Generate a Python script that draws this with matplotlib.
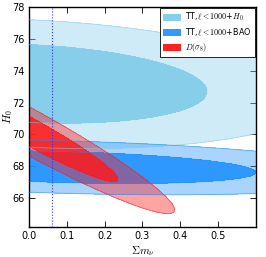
import numpy as np
import matplotlib
matplotlib.use("Agg")
import matplotlib.pyplot as plt
from matplotlib.patches import Patch

plt.rcParams["mathtext.fontset"] = "cm"
plt.rcParams["font.family"] = ["DejaVu Sans"]

# Gaussian approximations of the posteriors: (mnu centre, H0 centre, sigma mnu, sigma H0|mnu, slope dH0/dmnu)
H0_PRIOR = [0.0, 73.2, 0.31, 1.61, -1.06]
BAO = [0.10, 67.95, 0.33, 0.64, -0.65]
SIGMA8 = [0.0, 70.2, 0.155, 0.62, -12.8]
LEVELS = {"H0": [2.30, 6.17], "BAO": [2.30, 6.6], "s8": [2.30, 6.17]}
LABELS = [r"TT,$\ell < 1000$+$H_0$", r"TT,$\ell < 1000$+BAO", r"$D(\sigma_8)$"]
MNU_LINE = 0.06

def chi2(p, X, Y):
    mx, mh, sx, sh, b = p
    return ((X - mx) / sx) ** 2 + ((Y - mh - b * (X - mx)) / sh) ** 2

x = np.linspace(-1.0, 1.0, 700)
y = np.linspace(60, 82, 700)
X, Y = np.meshgrid(x, y)

fig = plt.figure(figsize=(2.66, 2.57), dpi=100, facecolor="white")
ax = fig.add_axes([0.109, 0.117, 0.853, 0.856])

sets = [
    (H0_PRIOR, LEVELS["H0"], "#87CEEB", [0.4, 1.0]),
    (BAO, LEVELS["BAO"], "#1E90FF", [0.38, 0.88]),
    (SIGMA8, LEVELS["s8"], "#FF1A1A", [0.4, 0.82]),
]
for p, lev, col, alph in sets:
    c = chi2(p, X, Y)
    ax.contourf(X, Y, c, levels=[0, lev[1]], colors=[col], alpha=alph[0], zorder=2)
    ax.contourf(X, Y, c, levels=[0, lev[0]], colors=[col], alpha=alph[1], zorder=2)
    ax.contour(X, Y, c, levels=lev, colors=[col], linewidths=0.6, alpha=0.6, zorder=3)

ax.axvline(MNU_LINE, color="#3333FF", ls=":", lw=0.8, zorder=4)

ax.set_xlim(0, 0.6)
ax.set_ylim(64.2, 78)
ax.set_xticks(np.arange(0, 0.51, 0.1))
ax.set_yticks(np.arange(66, 78.1, 2))
ax.tick_params(direction="in", top=True, right=True, labelsize=7, length=4, width=0.6, pad=3)
for s in ax.spines.values():
    s.set_linewidth(1.0)
ax.set_xlabel(r"$\Sigma m_\nu$", fontsize=8, labelpad=2)
ax.set_ylabel(r"$H_0$", fontsize=8)
ax.yaxis.set_label_coords(-0.062, 0.5)

handles = [Patch(facecolor="#87CEEB", edgecolor="none"),
           Patch(facecolor="#3399FF", edgecolor="none"),
           Patch(facecolor="#FF2020", edgecolor="none")]
leg = ax.legend(handles, LABELS, loc="upper right", fontsize=5.8, fancybox=False,
                framealpha=1, edgecolor="black", borderaxespad=0.15,
                handlelength=2.3, handleheight=0.9, handletextpad=0.5,
                labelspacing=0.35, borderpad=0.35)
leg.get_frame().set_linewidth(0.6)

fig.savefig("out.png", dpi=100, facecolor="white")
